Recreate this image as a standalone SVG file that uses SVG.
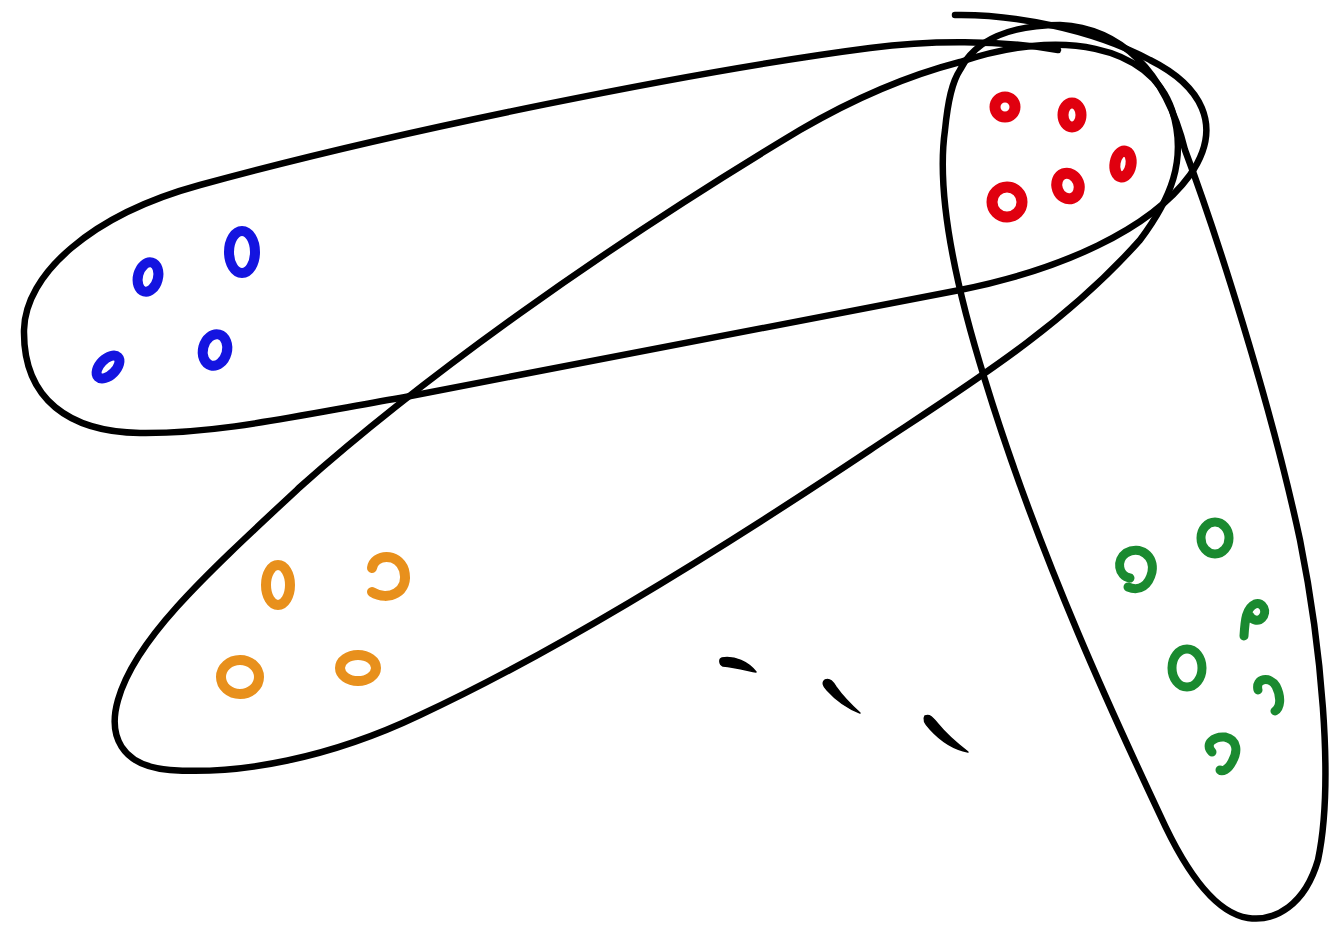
<svg xmlns="http://www.w3.org/2000/svg" width="1332" height="925" viewBox="0 0 1332 925">
<style>
.loop{fill:none;stroke:#000;stroke-width:6.5;stroke-linecap:round;stroke-linejoin:round}
.dash{fill:#000;stroke:#000;stroke-width:1.5;stroke-linejoin:round}
.blue{fill:none;stroke:#1414e0;stroke-width:10;stroke-linecap:round}
.orange{fill:none;stroke:#e8901c;stroke-width:10;stroke-linecap:round}
.red{fill:none;stroke:#e0000f;stroke-width:11;stroke-linecap:round}
.green{fill:none;stroke:#1a8a30;stroke-width:9;stroke-linecap:round}
</style>
<rect width="1332" height="925" fill="#fff"/>
<g id="loops">
  <path id="loop-blue" class="loop" d="M 1058,50 C 1000,40 930,40 870,48 C 700,70 400,130 200,185 C 90,215 25,275 24,330 C 23,400 70,432 140,433 C 220,434 300,415 400,398 C 600,360 800,320 960,290 C 1060,270 1150,230 1190,175 C 1225,125 1200,85 1150,60 C 1090,28 1010,14 955,15"/>
  <path id="loop-orange" class="loop" d="M 960,62 C 1060,28 1150,45 1172,110 C 1188,160 1170,200 1140,240 C 1060,330 960,390 870,450 C 720,550 560,650 420,715 C 330,758 240,775 170,770 C 120,766 108,735 118,700 C 135,640 200,580 300,487 C 420,380 600,250 800,130 C 860,95 910,75 960,62"/>
  <path id="loop-green" class="loop" d="M 960,70 C 975,40 1010,25 1060,25 C 1120,28 1165,70 1185,150 C 1215,230 1270,400 1300,540 C 1320,640 1335,780 1318,860 C 1305,905 1275,922 1248,918 C 1215,913 1185,870 1160,815 C 1120,730 1040,560 985,380 C 960,300 935,200 945,130 C 948,100 952,82 960,70"/>
</g>
<g id="blue-dots">
  <ellipse class="blue" cx="148" cy="277" rx="10" ry="15" transform="rotate(15 148 277)"/>
  <ellipse class="blue" cx="242" cy="252" rx="13" ry="21"/>
  <ellipse class="blue" cx="108" cy="367" rx="14" ry="8" transform="rotate(-45 108 367)"/>
  <ellipse class="blue" cx="215" cy="350" rx="12" ry="16" transform="rotate(15 215 350)"/>
</g>
<g id="orange-dots">
  <ellipse class="orange" cx="278" cy="585" rx="12" ry="20"/>
  <path class="orange" d="M 372,568 C 374,554 398,552 404,570 C 410,592 388,602 372,592"/>
  <ellipse class="orange" cx="240" cy="677" rx="19" ry="17"/>
  <ellipse class="orange" cx="358" cy="668" rx="18" ry="13"/>
</g>
<g id="red-dots">
  <circle class="red" cx="1005" cy="107" r="10"/>
  <ellipse class="red" cx="1072" cy="115" rx="9" ry="12"/>
  <ellipse class="red" cx="1123" cy="164" rx="8" ry="13" transform="rotate(10 1123 164)"/>
  <ellipse class="red" cx="1068" cy="186" rx="11" ry="13" transform="rotate(-20 1068 186)"/>
  <circle class="red" cx="1007" cy="202" r="15"/>
</g>
<g id="green-dots">
  <path class="green" d="M 1130,578 C 1118,576 1116,560 1126,553 C 1140,545 1155,556 1152,572 C 1149,585 1140,592 1128,587"/>
  <ellipse class="green" cx="1215" cy="538" rx="14" ry="16"/>
  <path class="green" d="M 1244,636 C 1245,620 1246,608 1255,604 C 1263,601 1268,612 1262,618 C 1258,622 1252,620 1250,616"/>
  <ellipse class="green" cx="1187" cy="668" rx="15" ry="19"/>
  <path class="green" d="M 1258,690 C 1255,678 1270,676 1276,686 C 1282,698 1280,708 1275,711"/>
  <path class="green" d="M 1212,752 C 1204,744 1214,736 1225,737 C 1238,740 1238,752 1232,762 C 1228,770 1222,772 1220,770"/>
</g>
<g id="ellipsis">
  <path class="dash" d="M 722,658 C 735,656 748,662 756,672 C 746,670 734,667 723,666 C 719,664 719,659 722,658 Z"/>
  <path class="dash" d="M 825,680 C 830,678 833,682 836,687 C 843,697 851,705 860,713 C 847,708 836,700 827,690 C 823,686 822,682 825,680 Z"/>
  <path class="dash" d="M 925,716 C 930,714 933,718 937,723 C 946,734 956,743 968,752 C 952,749 940,740 930,729 C 925,724 923,719 925,716 Z"/>
</g>
</svg>
